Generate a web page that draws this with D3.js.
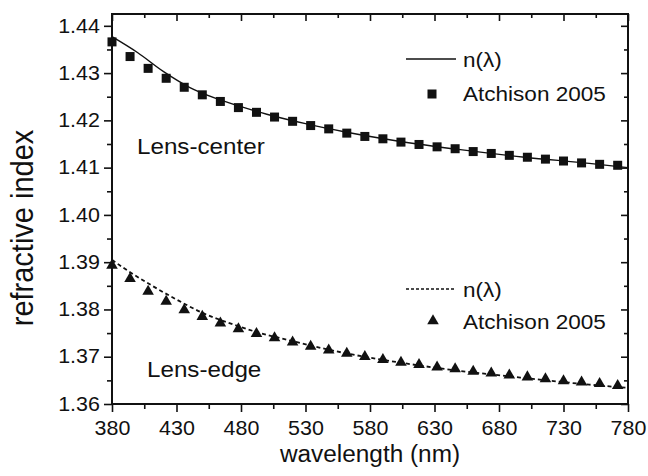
<!DOCTYPE html>
<html>
<head>
<meta charset="utf-8">
<script src="https://cdn.jsdelivr.net/npm/d3@7"></script>
<style>
body { margin: 0; background: #fff; }
text { font-family: "Liberation Sans", Arial, sans-serif; fill: #111; }
</style>
</head>
<body>
<script>
// Atchison 2005 data points (wavelength in nm)
const pointWl = [380,394,408,422,436,450,464,478,492,506,520,534,548,562,576,590,604,618,632,646,660,674,688,702,716,730,744,758,772];
const centerPts = [1.4366,1.4335,1.4310,1.4289,1.4270,1.4254,1.4240,1.4227,1.4217,1.4207,1.4198,1.4189,1.4182,1.4173,1.4166,1.4161,1.4154,1.4149,1.4144,1.4140,1.4134,1.4130,1.4126,1.4122,1.4118,1.4114,1.4110,1.4107,1.4105];
const edgePts = [1.3893,1.3865,1.3838,1.3817,1.3799,1.3785,1.3771,1.3759,1.3749,1.3740,1.3731,1.3722,1.3714,1.3707,1.3700,1.3694,1.3688,1.3683,1.3678,1.3674,1.3669,1.3665,1.3661,1.3657,1.3653,1.3649,1.3646,1.3643,1.3639];

// n(lambda) curves
const centerLineWl = [380,400,420,440,460,480,500,530,560,600,650,700,750,780];
const centerLine = [1.4377,1.4343,1.4303,1.4270,1.4247,1.4229,1.4213,1.4193,1.4176,1.4157,1.4138,1.4122,1.4109,1.4100];
const edgeLineWl = [380,390,410,430,450,470,490,520,560,600,650,700,750,780];
const edgeLine = [1.3905,1.3886,1.3852,1.3821,1.3793,1.3772,1.3754,1.3733,1.3708,1.3689,1.3670,1.3655,1.3641,1.3634];

// ticks
const xTicks = [380,430,480,530,580,630,680,730,780];
const xMinor = [405,455,505,555,605,655,705,755];
const yTicks = [1.36,1.37,1.38,1.39,1.40,1.41,1.42,1.43,1.44];
const yMinor = [1.365,1.375,1.385,1.395,1.405,1.415,1.425,1.435];

const width = 648;
const height = 476;
const margin = {top:14, right:20, bottom:72, left:112};
const sx = 1.1; // text in the scan is a bit wide

const svg = d3.select("body")
.append("svg")
.attr("width", width)
.attr("height", height);

const xScale = d3.scaleLinear()
.domain([380, 780])
.range([margin.left, width - margin.right]);

const yScale = d3.scaleLinear()
.domain([1.36, 1.4425])
.range([height - margin.bottom, margin.top]);

const x0 = margin.left, x1 = width - margin.right;
const y0 = height - margin.bottom, y1 = margin.top;

function axisStyle(g){
g.select(".domain").remove();
g.selectAll("line").attr("stroke","#111").attr("stroke-width",1.6);
}

function tickText(g){
g.selectAll("text")
.attr("font-size","19.5px")
.attr("font-family","Liberation Sans, Arial, sans-serif")
.attr("fill","#111")
.attr("transform","scale("+sx+",1)");
}

// bottom axis (outward ticks)
svg.append("g")
.attr("transform","translate(0,"+y0+")")
.call(d3.axisBottom(xScale).tickValues(xTicks).tickSize(8).tickPadding(9).tickFormat(d3.format("d")))
.call(axisStyle)
.call(tickText);

svg.append("g")
.attr("transform","translate(0,"+y0+")")
.call(d3.axisBottom(xScale).tickValues(xMinor).tickSize(5).tickFormat(""))
.call(axisStyle);

// top axis (inward ticks)
svg.append("g")
.attr("transform","translate(0,"+y1+")")
.call(d3.axisBottom(xScale).tickValues(xTicks).tickSize(7).tickFormat(""))
.call(axisStyle);
svg.append("g")
.attr("transform","translate(0,"+y1+")")
.call(d3.axisBottom(xScale).tickValues(xMinor).tickSize(4).tickFormat(""))
.call(axisStyle);

// left axis (outward ticks)
svg.append("g")
.attr("transform","translate("+x0+",0)")
.call(d3.axisLeft(yScale).tickValues(yTicks).tickSize(8).tickPadding(3).tickFormat(d3.format(".2f")))
.call(axisStyle)
.call(tickText);

svg.append("g")
.attr("transform","translate("+x0+",0)")
.call(d3.axisLeft(yScale).tickValues(yMinor).tickSize(5).tickFormat(""))
.call(axisStyle);

// right axis (inward ticks)
svg.append("g")
.attr("transform","translate("+x1+",0)")
.call(d3.axisLeft(yScale).tickValues(yTicks).tickSize(7).tickFormat(""))
.call(axisStyle);
svg.append("g")
.attr("transform","translate("+x1+",0)")
.call(d3.axisLeft(yScale).tickValues(yMinor).tickSize(4).tickFormat(""))
.call(axisStyle);

// frame
svg.append("rect")
.attr("x", x0)
.attr("y", y1)
.attr("width", x1 - x0)
.attr("height", y0 - y1)
.attr("fill","none")
.attr("stroke","#111")
.attr("stroke-width",2);

// axis labels
svg.append("text")
.attr("transform","translate("+((x0+x1)/2)+",462) scale(1.06,1)")
.attr("text-anchor","middle")
.attr("font-size","23px")
.text("wavelength (nm)");

svg.append("text")
.attr("transform","translate(33,228) rotate(-90) scale(1,"+sx+")")
.attr("text-anchor","middle")
.attr("font-size","29px")
.text("refractive index");

// curves
const line = d3.line()
.x(d => xScale(d[0]))
.y(d => yScale(d[1]))
.curve(d3.curveMonotoneX);

svg.append("path")
.datum(centerLineWl.map((w,i) => [w, centerLine[i]]))
.attr("d", line)
.attr("fill","none")
.attr("stroke","#111")
.attr("stroke-width",1.4);

svg.append("path")
.datum(edgeLineWl.map((w,i) => [w, edgeLine[i]]))
.attr("d", line)
.attr("fill","none")
.attr("stroke","#111")
.attr("stroke-width",1.8)
.attr("stroke-dasharray","4,3");

// squares
const sq = 9;
svg.selectAll("rect.sq")
.data(pointWl.map((w,i) => [w, centerPts[i]]))
.enter()
.append("rect")
.attr("class","sq")
.attr("x", d => xScale(d[0]) - sq/2)
.attr("y", d => yScale(d[1]) - sq/2)
.attr("width", sq)
.attr("height", sq)
.attr("fill","#111");

// triangles
const tri = d3.symbol(d3.symbolTriangle, 58);
svg.selectAll("path.tri")
.data(pointWl.map((w,i) => [w, edgePts[i]]))
.enter()
.append("path")
.attr("class","tri")
.attr("d", tri)
.attr("transform", d => "translate(" + xScale(d[0]) + "," + yScale(d[1]) + ")")
.attr("fill","#111");

// region labels
svg.append("text")
.attr("transform","translate(137,154) scale("+sx+",1)")
.attr("font-size","22px")
.text("Lens-center");

svg.append("text")
.attr("transform","translate(147,377) scale("+sx+",1)")
.attr("font-size","22px")
.text("Lens-edge");

// legends
function legend(top, dashed, marker){
const g = svg.append("g");
g.append("line")
.attr("x1",406).attr("x2",456)
.attr("y1",top).attr("y2",top)
.attr("stroke","#111")
.attr("stroke-width", dashed ? 1.6 : 1.4)
.attr("stroke-dasharray", dashed ? "3,2" : null);
g.append("text")
.attr("transform","translate(463,"+(top+8)+") scale("+sx+",1)")
.attr("font-size","20.5px")
.text("n(\u03bb)");
marker(g, top);
g.append("text")
.attr("transform","translate(463,"+(top+ (dashed ? 40 : 42))+") scale("+sx+",1)")
.attr("font-size","20.5px")
.text("Atchison 2005");
}

legend(59, false, function(g, top){
g.append("rect")
.attr("x", 432 - sq/2)
.attr("y", top + 35 - sq/2)
.attr("width", sq)
.attr("height", sq)
.attr("fill","#111");
});

legend(289, true, function(g, top){
g.append("path")
.attr("d", tri)
.attr("transform","translate(433,"+(top+32)+")")
.attr("fill","#111");
});
</script>
</body>
</html>
